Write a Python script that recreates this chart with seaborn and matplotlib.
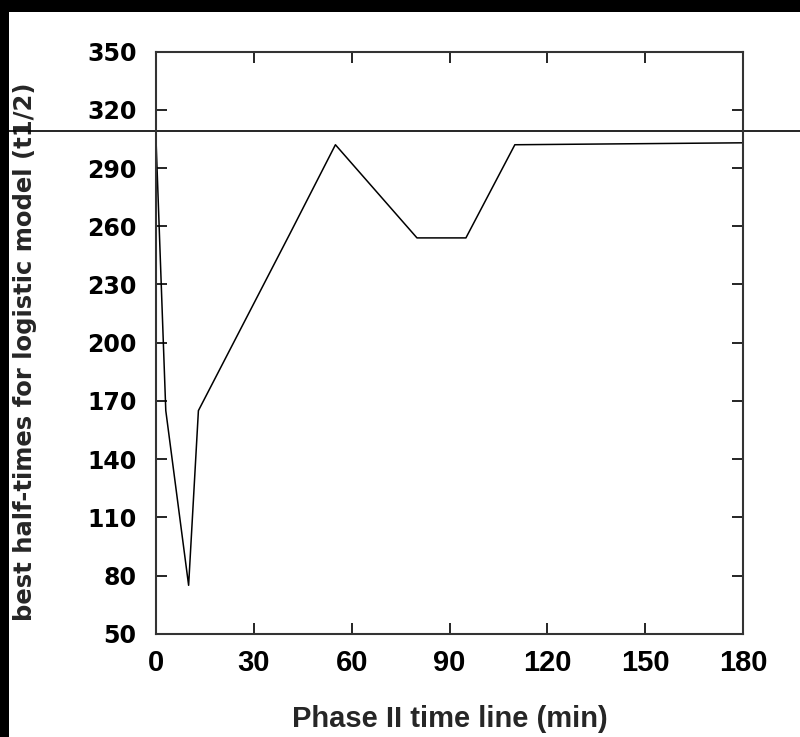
import matplotlib
matplotlib.use("Agg")
import matplotlib.pyplot as plt
import seaborn as sns
import pandas as pd
from matplotlib.patches import Rectangle

# values
time_min = [0, 3, 10, 13, 41, 55, 80, 95, 110, 180]
half_time = [305, 165, 75, 165, 256, 302, 254, 254, 302, 303]
x_ticks = [0, 30, 60, 90, 120, 150, 180]
y_ticks = [50, 80, 110, 140, 170, 200, 230, 260, 290, 320, 350]
scan_line = 309  # stray horizontal line across the scan

sns.set_style("ticks")

df = pd.DataFrame({"time": time_min, "t_half": half_time})

fig = plt.figure(figsize=(8.0, 7.37), dpi=100)
ax = fig.add_axes([0.195, 0.140, 0.734, 0.790])

sns.lineplot(data=df, x="time", y="t_half", color="black", linewidth=1.1, ax=ax)

ax.set_xlim(0, 180)
ax.set_ylim(50, 350)
ax.set_xticks(x_ticks)
ax.set_yticks(y_ticks)

for s in ax.spines.values():
    s.set_visible(True)
    s.set_linewidth(1.5)
    s.set_color("#333333")

ax.tick_params(direction="in", length=8, width=1.2, top=True, right=True, colors="black")
ax.tick_params(axis="y", pad=14)
ax.tick_params(axis="x", pad=11)

for lab in ax.get_yticklabels():
    lab.set_fontfamily("DejaVu Sans")
    lab.set_fontweight("bold")
    lab.set_fontsize(17)
for lab in ax.get_xticklabels():
    lab.set_fontfamily("Liberation Sans")
    lab.set_fontweight("bold")
    lab.set_fontsize(21)

ax.set_xlabel("Phase II time line (min)", fontsize=21, fontweight="bold", family="Liberation Sans")
ax.set_ylabel("best half-times for logistic model (t1/2)", fontsize=17.5, fontweight="bold", family="DejaVu Sans")
ax.xaxis.set_label_coords(0.5, -0.122)
ax.yaxis.set_label_coords(-0.202, 0.485)

# scan artefacts: horizontal line across the page and black edges
ax.axhline(scan_line, xmin=-0.252, xmax=1.1, color="black", linewidth=1.2, clip_on=False)
fig.patches.append(Rectangle((0, 1 - 12 / 737), 1, 12 / 737, transform=fig.transFigure,
                             facecolor="black", edgecolor="none"))
fig.patches.append(Rectangle((0, 0), 9 / 800, 1, transform=fig.transFigure,
                             facecolor="black", edgecolor="none"))

fig.savefig("out.png", dpi=100, facecolor="white")
